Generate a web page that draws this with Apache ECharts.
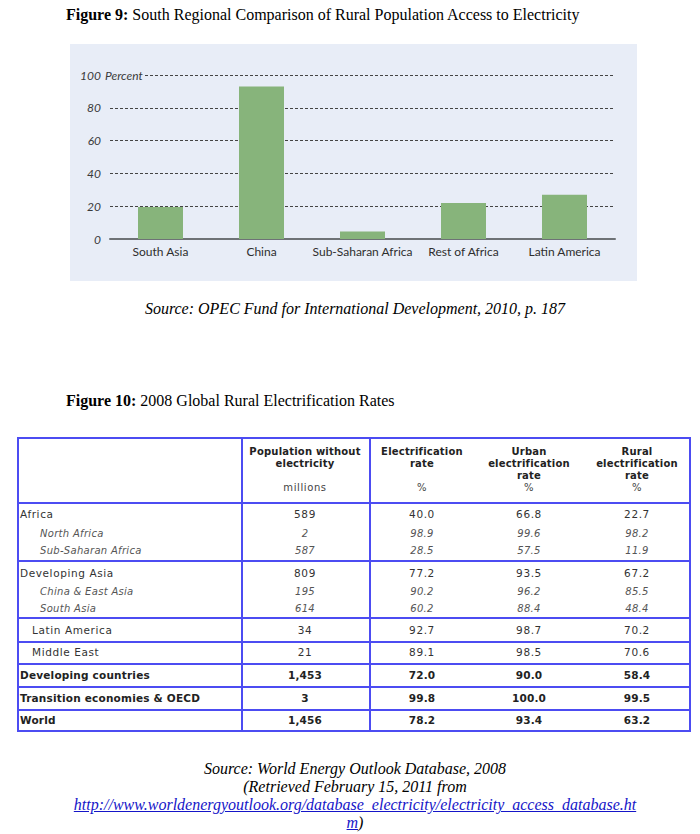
<!DOCTYPE html>
<html><head><meta charset="utf-8">
<script src="https://cdn.jsdelivr.net/npm/echarts@6/dist/echarts.min.js"></script>
<style>
body{margin:0;background:#fff;width:700px;height:834px;position:relative;overflow:hidden;font-family:"Liberation Serif","Times New Roman",serif;color:#000;}
.t{position:absolute;white-space:nowrap;}
.cap{position:absolute;left:0;width:710px;text-align:center;font-style:italic;font-size:16px;white-space:nowrap;}
#tbl div{position:absolute;white-space:nowrap;font-family:"DejaVu Sans",Verdana,sans-serif;font-size:10.5px;line-height:12px;}
a{color:#1515c8;}
</style></head><body>
<div class="t" style="left:66px;top:6px;font-size:16px;"><b>Figure 9:</b> South Regional Comparison of Rural Population Access to Electricity</div>
<div id="chart" style="position:absolute;left:70px;top:44px;width:567px;height:237px;background:#e8edf7"></div>
<div class="cap" style="top:300px;">Source: OPEC Fund for International Development, 2010, p. 187</div>
<div class="t" style="left:66px;top:392px;font-size:16px;"><b>Figure 10:</b> 2008 Global Rural Electrification Rates</div>
<div id="tbl"></div>
<div class="cap" style="top:760px;line-height:18px;">Source: World Energy Outlook Database, 2008<br>(Retrieved February 15, 2011 from<br><a href="#">http://www.worldenergyoutlook.org/database_electricity/electricity_access_database.ht</a><br><a href="#">m</a>)</div>
<script>
// ---- Figure 9 data ----
const categories = ['South Asia', 'China', 'Sub-Saharan Africa', 'Rest of Africa', 'Latin America'];
const ruralAccess = [19.5, 93, 4.5, 22, 27];
const yMin = 0, yMax = 100, yStep = 20;

// ---- Figure 10 data ----
const rowLabels = ['Africa', 'North Africa', 'Sub-Saharan Africa', 'Developing Asia', 'China & East Asia', 'South Asia', 'Latin America', 'Middle East', 'Developing countries', 'Transition economies & OECD', 'World'];
const rowKinds = ['group', 'sub', 'sub', 'group', 'sub', 'sub', 'indent', 'indent', 'bold', 'bold', 'bold'];
const popWithout = ['589', '2', '587', '809', '195', '614', '34', '21', '1,453', '3', '1,456'];
const elecRate = [40.0, 98.9, 28.5, 77.2, 90.2, 60.2, 92.7, 89.1, 72.0, 99.8, 78.2];
const urbanRate = [66.8, 99.6, 57.5, 93.5, 96.2, 88.4, 98.7, 98.5, 90.0, 100.0, 93.4];
const ruralRate = [22.7, 98.2, 11.9, 67.2, 85.5, 48.4, 70.2, 70.6, 58.4, 99.5, 63.2];
const headers = [
  ['Population without', 'electricity', '', 'millions'],
  ['Electrification', 'rate', '', '%'],
  ['Urban', 'electrification', 'rate', '%'],
  ['Rural', 'electrification', 'rate', '%']
];

// ---- chart ----
const chart = echarts.init(document.getElementById('chart'), null, {renderer: 'svg'});
const FONT = 'Lato, "Open Sans", sans-serif';
chart.setOption({
  animation: false,
  grid: {left: 40, right: 22, top: 31, bottom: 42},
  xAxis: {
    type: 'category', data: categories,
    axisLine: {lineStyle: {color: '#6e7276', width: 2}},
    axisTick: {show: false},
    axisLabel: {color: '#2e2e2e', fontFamily: FONT, fontSize: 12, margin: 6, interval: 0}
  },
  yAxis: {
    type: 'value', min: yMin, max: yMax, interval: yStep,
    axisLine: {show: false}, axisTick: {show: false},
    axisLabel: {color: '#3a3a3a', fontStyle: 'italic', fontFamily: FONT, fontSize: 12, margin: 9},
    splitLine: {lineStyle: {color: '#444', type: [3, 2], width: 1}}
  },
  series: [{type: 'bar', data: ruralAccess, barWidth: 45, itemStyle: {color: '#87b47b'}}]
});
const yTop = chart.convertToPixel({yAxisIndex: 0}, yMax);
chart.setOption({
  graphic: [
    {type: 'rect', shape: {x: 38, y: yTop - 2, width: 37, height: 4}, style: {fill: '#e8edf7'}, z: 100},
    {type: 'text', x: 35, y: yTop, style: {text: 'Percent', fill: '#3a3a3a', fontStyle: 'italic', fontFamily: FONT, fontSize: 12, verticalAlign: 'middle', align: 'left'}, z: 101}
  ]
});

// ---- table ----
const tbl = document.getElementById('tbl');
function add(html, css) {
  const d = document.createElement('div');
  d.innerHTML = html;
  Object.assign(d.style, css);
  tbl.appendChild(d);
  return d;
}
const T = {left: 17, top: 437, right: 691, bottom: 732};
const vLines = [241, 369];
const hLines = [502, 560, 617, 641, 663, 686, 709];
const colCenters = [305, 422, 529, 637];
const rowY = [514, 534, 551, 573, 592, 609, 630, 652, 675, 698, 720];
const headY0 = 452, headStep = 12;
const BLUE = '#4c4cf2';

add('', {left: T.left + 'px', top: T.top + 'px', width: (T.right - T.left) + 'px', height: (T.bottom - T.top) + 'px', border: '2px solid ' + BLUE, boxSizing: 'border-box'});
vLines.forEach(x => add('', {left: x + 'px', top: T.top + 'px', width: '2px', height: (T.bottom - T.top) + 'px', background: BLUE}));
hLines.forEach(y => add('', {left: T.left + 'px', top: y + 'px', width: (T.right - T.left) + 'px', height: '1.5px', background: BLUE}));

function cell(text, cx, cy, st) {
  add(text, Object.assign({left: (cx - 80) + 'px', width: '160px', textAlign: 'center', top: (cy - 6) + 'px'}, st));
}
headers.forEach((lines, c) => {
  lines.forEach((s, k) => {
    if (!s) return;
    const last = k === lines.length - 1;
    cell(s, colCenters[c], headY0 + k * headStep, last
      ? {fontWeight: 'normal', color: '#444', letterSpacing: '0.6px', fontSize: '10px'}
      : {fontWeight: 'bold', color: '#222', letterSpacing: '0.2px', fontSize: '10px'});
  });
});
rowLabels.forEach((lab, i) => {
  const kind = rowKinds[i];
  let st = {color: '#333', letterSpacing: '0.6px'};
  if (kind === 'sub') st = {fontStyle: 'italic', color: '#555', letterSpacing: '0.3px', fontSize: '10px'};
  if (kind === 'bold') st = {fontWeight: 'bold', color: '#222', letterSpacing: '0.2px'};
  const lx = kind === 'sub' ? 40 : (kind === 'indent' ? 32 : 20);
  add(lab.replace('&', '&amp;'), Object.assign({left: lx + 'px', top: (rowY[i] - 6) + 'px'}, st));
  const vals = [popWithout[i], elecRate[i].toFixed(1), urbanRate[i].toFixed(1), ruralRate[i].toFixed(1)];
  vals.forEach((v, c) => cell(v, colCenters[c], rowY[i], st));
});
</script>
</body></html>
